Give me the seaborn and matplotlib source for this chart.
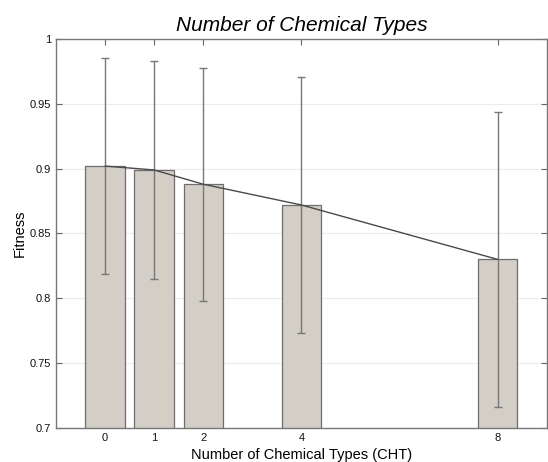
import numpy as np
import pandas as pd
import matplotlib
matplotlib.use("Agg")
import matplotlib.pyplot as plt
import seaborn as sns

# values
cht = [0, 1, 2, 4, 8]
fitness = [0.902, 0.899, 0.888, 0.872, 0.830]
err = [0.083, 0.084, 0.090, 0.099, 0.114]
y_ticks = [0.7, 0.75, 0.8, 0.85, 0.9, 0.95, 1.0]
y_tick_labels = ["0.7", "0.75", "0.8", "0.85", "0.9", "0.95", "1"]

sns.set_style("white")
plt.rcParams["font.family"] = ["Liberation Sans", "DejaVu Sans"]
plt.rcParams["text.color"] = "black"
plt.rcParams["axes.labelcolor"] = "black"

df = pd.DataFrame({"cht": cht, "fitness": fitness})

fig = plt.figure(figsize=(5.48, 4.62), dpi=100)
ax = fig.add_axes([0.102, 0.0736, 0.896, 0.842])

sns.barplot(data=df, x="cht", y="fitness", native_scale=True, width=0.8,
            color="#d3cfc7", edgecolor="#6e6e6e", linewidth=0.9,
            saturation=1, errorbar=None, ax=ax)
ax.errorbar(cht, fitness, yerr=err, fmt="none", ecolor="#777777",
            elinewidth=1.0, capsize=3, capthick=1.0, zorder=3)
sns.lineplot(x=cht, y=fitness, color="#4a4a4a", linewidth=1.0, ax=ax, zorder=4)

ax.set_xlim(-1, 9)
ax.set_ylim(0.7, 1.0)
ax.set_xticks(cht)
ax.set_xticklabels([str(c) for c in cht])
ax.set_yticks(y_ticks)
ax.set_yticklabels(y_tick_labels)
ax.yaxis.grid(True, color="#ececec", linewidth=0.8)
ax.set_axisbelow(True)
ax.tick_params(direction="in", length=4, width=0.8, color="#666666",
               labelsize=8, bottom=True, left=True, top=True, right=True,
               labelcolor="#111111")
for s in ax.spines.values():
    s.set_color("#777777")
    s.set_linewidth(1.0)

ax.set_xlabel("Number of Chemical Types (CHT)", fontsize=10.5, labelpad=4)
ax.set_ylabel("Fitness", fontsize=10.5, labelpad=2)
ax.set_title("Number of Chemical Types", fontsize=15, style="italic", pad=6)

fig.savefig("out.png", dpi=100)
